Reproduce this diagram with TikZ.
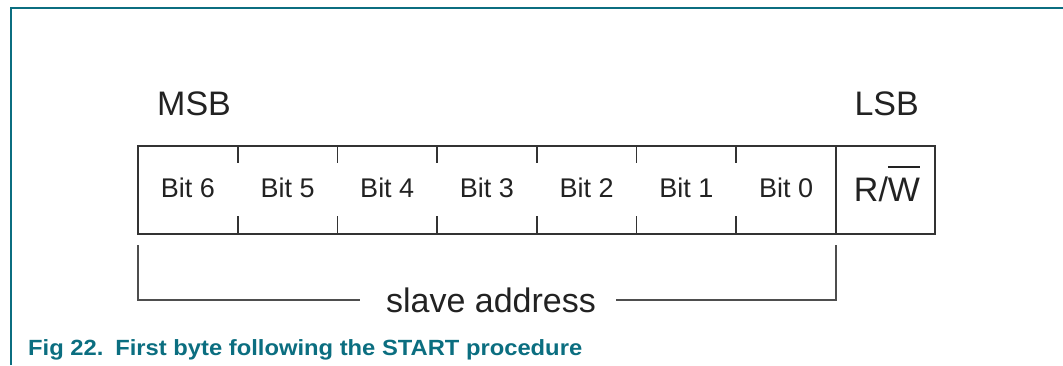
\documentclass[tikz,border=0pt]{standalone}
\usepackage{fontspec}
\setmainfont{Liberation Sans}
\usepackage{calc}
\usepackage{graphicx}
\definecolor{teal1}{HTML}{0B6E80}
\definecolor{ink}{HTML}{222222}
\definecolor{boxline}{HTML}{333333}
\begin{document}
\begin{tikzpicture}[x=1pt,y=-1pt,
  lbl/.style={inner sep=0pt, text=ink, font=\fontsize{27}{30}\selectfont, anchor=base},
  big/.style={inner sep=0pt, text=ink, font=\fontsize{34}{38}\selectfont},
  frameline/.style={draw=teal1, line width=1.3pt},
  boxstyle/.style={draw=boxline, line width=2pt},
  tick/.style={draw=boxline, line width=1.8pt},
  bracket/.style={draw=ink!80, line width=1.3pt}]
\useasboundingbox (0,0) rectangle (1063,365);
% frame
\coordinate (ftl) at (11,8);
\coordinate (ftr) at (1063,8);
\coordinate (fbl) at (11,365);
\draw[frameline] (fbl) -- (ftl) -- (ftr);
% labels
\node[big, anchor=base west] (msb) at (157,115) {MSB};
\node[big, anchor=base east] (lsb) at (919,115) {LSB};
% box
\coordinate (btl) at (138,146);
\coordinate (bbr) at (935,234);
\draw[boxstyle] (btl) rectangle (bbr);
\foreach \k in {1,...,6}{
  \pgfmathsetmacro{\xx}{138+99.7*\k}
  \draw[tick] (\xx,146) -- (\xx,163);
  \draw[tick] (\xx,216) -- (\xx,234);
}
\coordinate (dt) at (836,146);
\coordinate (db) at (836,234);
\draw[tick] (dt) -- (db);
% bit labels
\foreach \n [count=\i from 0] in {6,5,4,3,2,1,0}{
  \pgfmathsetmacro{\xx}{138+99.7*(\i+0.5)}
  \node[lbl] (b\n) at (\xx,197) {Bit \n};
}
\node[big, anchor=base] (rw) at (887,201) {R/\rlap{\rule[33pt]{\widthof{W}}{1.8pt}}W};
% slave address bracket
\node[big, anchor=base] (sa) at (491,312) {slave address};
\coordinate (bl) at (138,245);
\coordinate (br) at (836,245);
\coordinate (la) at (360,300);
\coordinate (ra) at (616,300);
\draw[bracket] (bl) |- (la);
\draw[bracket] (br) |- (ra);
% caption
\node[inner sep=0pt, anchor=base west, text=teal1, font=\fontsize{22}{26}\selectfont\bfseries] (cap) at (28,355) {\scalebox{1.08}[1]{Fig 22.\hskip 11pt First byte following the START procedure}};
\end{tikzpicture}
\end{document}
